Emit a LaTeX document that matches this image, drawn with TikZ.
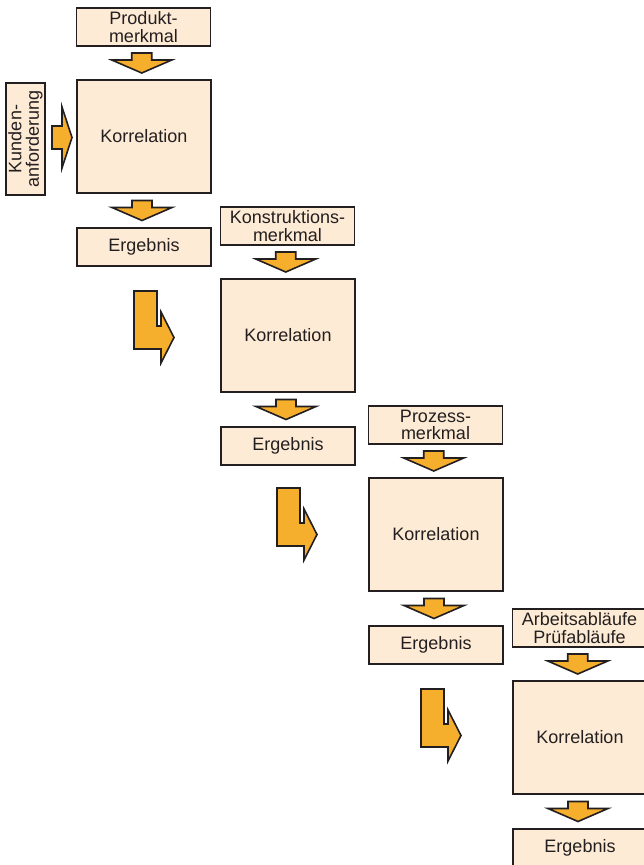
\documentclass[tikz,border=0pt]{standalone}
\usepackage{fontspec}
\setmainfont{Liberation Sans}
\usetikzlibrary{calc}
\definecolor{peach}{HTML}{FEEBD5}
\definecolor{orng}{HTML}{F6AE2D}
\definecolor{ink}{HTML}{231F20}
\tikzset{
  box/.style={draw=ink, fill=peach, line width=1.6pt, inner sep=0pt, align=center,
    text=ink, font=\fontsize{18}{17.5}\selectfont, minimum width=134pt},
  hdr/.style={box, minimum height=38pt},
  korr/.style={box, minimum height=113pt},
  erg/.style={box, minimum height=38pt},
  blockarrow/.style={draw=ink, fill=orng, line width=1.6pt, line join=miter},
  darrow/.pic={\path[blockarrow] (-10,-10) -- (10,-10) -- (10,-3) -- (30,-3) -- (0,10) -- (-30,-3) -- (-10,-3) -- cycle;},
  rarrow/.pic={\path[blockarrow] (-10,-11.5) -- (0,-11.5) -- (0,-30.5) -- (10,0) -- (0,30.5) -- (0,11.5) -- (-10,11.5) -- cycle;},
  larrow/.pic={\path[blockarrow] (0,0) -- (23,0) -- (23,35) -- (27,35) -- (27,21) -- (40,46.5) -- (27,72) -- (27,58) -- (0,58) -- cycle;}
}
\begin{document}
\begin{tikzpicture}[x=1pt,y=-1pt]
\useasboundingbox (0,0) rectangle (644,865);
\clip (0,0) rectangle (644,865);
% block 1
\node[hdr] (h1) at (143.5,27) {Produkt-\\merkmal};
\node[korr] (k1) at (144,136.5) {Korrelation};
\node[erg] (e1) at (144,247) {Ergebnis};
\node[box, minimum width=112pt, minimum height=39pt, rotate=90] (ku) at (25.5,139) {Kunden-\\anforderung};
\pic at ([xshift=-2pt]$(h1.south)!0.5!(k1.north)$) {darrow};
\pic at ([xshift=-2pt]$(k1.south)!0.5!(e1.north)$) {darrow};
\pic at (62,137.5) {rarrow};
\pic at (134,291) {larrow};
% block 2
\node[hdr] (h2) at (287.5,226) {Konstruktions-\\merkmal};
\node[korr] (k2) at (288,335.5) {Korrelation};
\node[erg] (e2) at (288,446) {Ergebnis};
\pic at ([xshift=-2pt]$(h2.south)!0.5!(k2.north)$) {darrow};
\pic at ([xshift=-2pt]$(k2.south)!0.5!(e2.north)$) {darrow};
\pic at (277,488) {larrow};
% block 3
\node[hdr] (h3) at (435.5,425) {Prozess-\\merkmal};
\node[korr] (k3) at (436,534.5) {Korrelation};
\node[erg] (e3) at (436,645) {Ergebnis};
\pic at ([xshift=-2pt]$(h3.south)!0.5!(k3.north)$) {darrow};
\pic at ([xshift=-2pt]$(k3.south)!0.5!(e3.north)$) {darrow};
\pic at (421,689) {larrow};
% block 4
\node[hdr] (h4) at (579.5,628) {Arbeitsabläufe\\Prüfabläufe};
\node[korr] (k4) at (580,737.5) {Korrelation};
\node[erg] (e4) at (580,848) {Ergebnis};
\pic at ([xshift=-2pt]$(h4.south)!0.5!(k4.north)$) {darrow};
\pic at ([xshift=-2pt]$(k4.south)!0.5!(e4.north)$) {darrow};
\end{tikzpicture}
\end{document}
